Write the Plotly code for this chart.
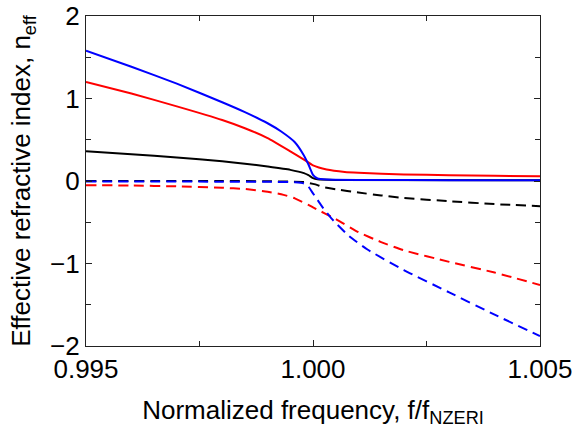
import plotly.graph_objects as go

# ---- data ----
blue_solid_x = [0.995, 0.996, 0.997, 0.998, 0.9985, 0.999, 0.9993, 0.9996, 0.9998, 0.9999, 1.0, 1.0001, 1.0003, 1.001, 1.003, 1.005]
blue_solid_y = [1.58, 1.385, 1.18, 0.955, 0.835, 0.70, 0.60, 0.47, 0.31, 0.20, 0.075, 0.03, 0.018, 0.013, 0.01, 0.01]

red_solid_x = [0.995, 0.996, 0.997, 0.998, 0.9985, 0.999, 0.9995, 0.9998, 1.0, 1.0003, 1.0007, 1.001, 1.002, 1.003, 1.004, 1.005]
red_solid_y = [1.20, 1.06, 0.905, 0.74, 0.64, 0.52, 0.36, 0.26, 0.19, 0.14, 0.11, 0.10, 0.08, 0.07, 0.063, 0.058]

black_solid_x = [0.995, 0.996, 0.997, 0.998, 0.9985, 0.999, 0.9995, 0.9998, 0.9999, 1.0, 1.0001, 1.0005, 1.005]
black_solid_y = [0.36, 0.325, 0.285, 0.24, 0.21, 0.175, 0.135, 0.095, 0.07, 0.035, 0.02, 0.012, 0.008]

black_dash_x = [0.995, 0.998, 0.999, 0.9995, 0.9998, 1.0, 1.0001, 1.0002, 1.0005, 1.001, 1.0015, 1.002, 1.003, 1.004, 1.005]
black_dash_y = [0.0, 0.0, -0.003, -0.008, -0.012, -0.035, -0.05, -0.07, -0.10, -0.14, -0.175, -0.205, -0.245, -0.28, -0.305]

red_dash_x = [0.995, 0.996, 0.997, 0.998, 0.9985, 0.999, 0.9993, 0.9996, 0.9999, 1.0, 1.0005, 1.001, 1.0015, 1.002, 1.003, 1.004, 1.005]
red_dash_y = [-0.05, -0.055, -0.065, -0.082, -0.097, -0.13, -0.16, -0.21, -0.29, -0.32, -0.46, -0.62, -0.74, -0.84, -0.98, -1.11, -1.26]

blue_dash_x = [0.995, 0.998, 0.999, 0.9996, 0.9998, 0.9999, 1.0, 1.0001, 1.0002, 1.0004, 1.0008, 1.0012, 1.002, 1.003, 1.004, 1.005]
blue_dash_y = [-0.005, -0.008, -0.01, -0.015, -0.03, -0.07, -0.15, -0.23, -0.31, -0.45, -0.67, -0.83, -1.08, -1.35, -1.62, -1.88]

x_tick_vals = [0.995, 1.000, 1.005]
x_tick_text = ["0.995", "1.000", "1.005"]
y_tick_vals = [-2, -1, 0, 1, 2]

x_title = "Normalized frequency, f/f<sub>NZERI</sub>"
y_title = "Effective refractive index, n<sub>eff</sub>"

FONT = "Liberation Sans, Arial, sans-serif"

fig = go.Figure()

def add(x, y, color, dash):
    fig.add_trace(go.Scatter(
        x=x, y=y, mode="lines",
        line=dict(color=color, width=2, dash=dash, shape="spline", smoothing=0.5),
        showlegend=False, hoverinfo="skip"))

add(black_dash_x, black_dash_y, "black", "10px,6px")
add(red_dash_x, red_dash_y, "#ff0000", "10px,6px")
add(blue_dash_x, blue_dash_y, "#0000ff", "10px,6px")
add(black_solid_x, black_solid_y, "black", "solid")
add(red_solid_x, red_solid_y, "#ff0000", "solid")
add(blue_solid_x, blue_solid_y, "#0000ff", "solid")

axis_common = dict(
    showline=True, linecolor="#222222", linewidth=1.3, mirror="ticks",
    ticks="inside", ticklen=6, tickwidth=1.2, tickcolor="#222222",
    showgrid=False, zeroline=False, automargin=False,
    tickfont=dict(family=FONT, size=26, color="black"),
)

fig.update_layout(
    width=574, height=428,
    margin=dict(l=86, r=34, t=16, b=82),
    paper_bgcolor="white", plot_bgcolor="white",
    font=dict(family=FONT, size=26, color="black"),
    xaxis=dict(
        range=[0.995, 1.005], tickvals=x_tick_vals, ticktext=x_tick_text,
        minor=dict(ticks="inside", dtick=0.0025, tick0=0.995, ticklen=5, tickwidth=1.2, tickcolor="#222222"),
        title=dict(text=x_title, font=dict(family=FONT, size=26), standoff=17),
        **axis_common),
    yaxis=dict(
        range=[-2, 2], tickvals=y_tick_vals,
        minor=dict(ticks="inside", dtick=0.5, tick0=0, ticklen=5, tickwidth=1.2, tickcolor="#222222"),
        title=dict(text=y_title, font=dict(family=FONT, size=26), standoff=11),
        **axis_common),
)

fig.write_html("out.html", config={"displayModeBar": False},
               post_script="document.body.style.margin='0px';document.body.style.overflow='hidden';")
